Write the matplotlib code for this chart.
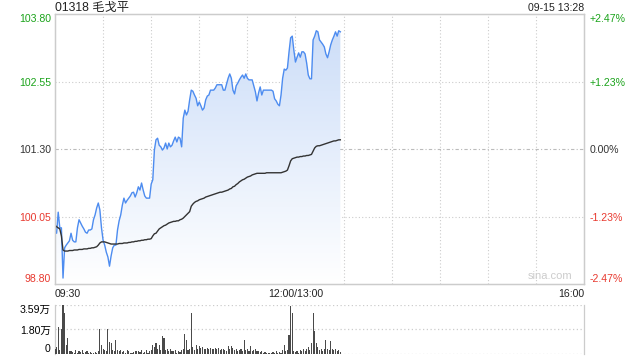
import numpy as np
import matplotlib
matplotlib.use("Agg")
import matplotlib.pyplot as plt
from matplotlib.patches import Polygon
from matplotlib.colors import LinearSegmentedColormap

plt.rcParams['font.family'] = ['Liberation Sans', 'Noto Sans CJK SC', 'DejaVu Sans']

# ---- data (minutes since 09:30, lunch break removed) ----
title = "01318 毛戈平"
stamp = "09-15 13:28"
prev_close = 101.30

price = [
    99.80, 99.74, 100.13, 99.84, 99.84, 98.91, 99.47, 99.52, 99.56, 99.60,
    99.74, 99.61, 99.58, 99.58, 99.84, 99.99, 99.93, 99.87, 99.82, 99.76,
    99.74, 99.80, 99.80, 99.82, 99.99, 100.08, 100.21, 100.30, 100.17, 99.84,
    99.61, 99.52, 99.39, 99.30, 99.13, 99.32, 99.47, 99.52, 99.52, 99.80,
    99.97, 100.08, 100.26, 100.39, 100.30, 100.35, 100.39, 100.43, 100.49, 100.50,
    100.41, 100.49, 100.60, 100.54, 100.67, 100.54, 100.43, 100.39, 100.39, 100.39,
    100.65, 100.73, 101.28, 101.47, 101.50, 101.37, 101.34, 101.28, 101.32, 101.41,
    101.30, 101.41, 101.34, 101.37, 101.45, 101.52, 101.43, 101.52, 101.50, 101.34,
    101.87, 102.02, 101.93, 102.00, 102.21, 102.39, 102.37, 102.30, 102.24, 102.10,
    102.17, 102.10, 102.02, 102.06, 102.21, 102.28, 102.30, 102.39, 102.39, 102.39,
    102.43, 102.49, 102.49, 102.49, 102.49, 102.39, 102.39, 102.50, 102.61, 102.69,
    102.61, 102.39, 102.32, 102.47, 102.52, 102.58, 102.63, 102.67, 102.61, 102.69,
    102.61, 102.58, 102.58, 102.58, 102.47, 102.36, 102.19, 102.34, 102.45, 102.30,
    102.39, 102.39, 102.39, 102.39, 102.39, 102.39, 102.37, 102.23, 102.19, 102.13,
    102.10, 102.30, 102.61, 102.78, 102.76, 102.80, 103.10, 103.36, 103.39, 103.13,
    102.91, 103.00, 103.08, 103.00, 103.10, 103.10, 103.06, 102.89, 102.67, 102.60,
    102.60, 103.32, 103.39, 103.49, 103.47, 103.32, 103.28, 103.24, 103.19, 103.06,
    102.99, 103.10, 103.23, 103.32, 103.39, 103.47, 103.39, 103.49, 103.47,
]

avg_price = [
    99.89, 99.86, 99.84, 99.82, 99.69, 99.43, 99.41, 99.41, 99.41, 99.42,
    99.42, 99.42, 99.43, 99.43, 99.43, 99.44, 99.44, 99.44, 99.45, 99.45,
    99.45, 99.46, 99.46, 99.47, 99.47, 99.48, 99.49, 99.52, 99.56, 99.58,
    99.58, 99.58, 99.57, 99.56, 99.55, 99.54, 99.54, 99.54, 99.54, 99.54,
    99.55, 99.55, 99.55, 99.56, 99.56, 99.56, 99.57, 99.57, 99.58, 99.58,
    99.59, 99.59, 99.60, 99.60, 99.61, 99.61, 99.62, 99.62, 99.63, 99.63,
    99.64, 99.69, 99.73, 99.74, 99.78, 99.82, 99.84, 99.86, 99.88, 99.89,
    99.91, 99.93, 99.94, 99.95, 99.96, 99.96, 99.97, 99.97, 99.99, 100.00,
    100.02, 100.05, 100.08, 100.11, 100.14, 100.24, 100.28, 100.31, 100.33, 100.34,
    100.36, 100.37, 100.38, 100.39, 100.41, 100.42, 100.43, 100.44, 100.45, 100.46,
    100.47, 100.48, 100.49, 100.50, 100.50, 100.51, 100.52, 100.53, 100.54, 100.56,
    100.57, 100.60, 100.61, 100.64, 100.66, 100.69, 100.71, 100.73, 100.74, 100.76,
    100.78, 100.79, 100.80, 100.82, 100.83, 100.84, 100.85, 100.85, 100.85, 100.85,
    100.85, 100.85, 100.86, 100.86, 100.86, 100.86, 100.86, 100.86, 100.86, 100.86,
    100.86, 100.86, 100.87, 100.88, 100.89, 100.91, 100.99, 101.08, 101.12, 101.13,
    101.14, 101.15, 101.15, 101.16, 101.16, 101.17, 101.17, 101.18, 101.18, 101.19,
    101.20, 101.26, 101.32, 101.35, 101.36, 101.36, 101.37, 101.38, 101.39, 101.40,
    101.41, 101.42, 101.43, 101.44, 101.45, 101.45, 101.46, 101.47, 101.47,
]

# volume in 万 shares
volume = [
    0.35, 0.5, 2.0, 0.3, 1.8, 3.59, 2.98, 0.66, 1.15, 0.25,
    0.22, 0.15, 0.1, 0.3, 0.1, 0.25, 0.15, 0.3, 0.1, 0.15,
    0.2, 0.1, 0.15, 0.1, 0.1, 0.15, 0.1, 0.2, 1.8, 0.66,
    0.4, 0.3, 0.2, 1.8, 0.9, 0.83, 0.3, 0.25, 1.03, 0.3,
    0.2, 0.3, 0.15, 0.25, 0.1, 0.3, 0.2, 0.1, 0.05, 0.15,
    0.2, 0.25, 0.25, 0.15, 0.3, 0.1, 0.15, 0.3, 0.1, 0.2,
    0.3, 0.66, 0.5, 0.83, 0.4, 0.66, 0.3, 1.32, 1.15, 0.3,
    0.4, 0.2, 0.35, 0.25, 0.2, 0.3, 0.1, 0.25, 0.15, 0.3,
    0.35, 1.47, 1.0, 0.3, 0.4, 3.03, 0.54, 0.3, 0.66, 0.4,
    0.55, 0.45, 0.5, 0.4, 0.35, 0.45, 0.4, 0.45, 0.4, 0.35,
    0.45, 0.4, 0.45, 0.3, 0.35, 0.4, 0.3, 0.25, 0.6, 0.4,
    0.6, 0.45, 0.3, 0.4, 0.25, 0.3, 0.4, 0.2, 1.0, 0.3,
    0.4, 0.25, 0.6, 0.2, 0.3, 0.35, 0.2, 0.25, 0.15, 0.2,
    0.1, 0.15, 0.1, 0.05, 0.1, 0.05, 0.15, 0.1, 0.2, 0.1,
    0.15, 0.1, 0.3, 0.66, 0.2, 0.3, 1.4, 3.5, 2.98, 0.2,
    0.15, 0.2, 0.1, 0.3, 0.25, 0.4, 0.2, 0.4, 0.5, 0.3,
    0.83, 3.03, 1.7, 0.78, 0.5, 0.3, 0.4, 0.25, 0.35, 1.03,
    0.4, 0.3, 0.95, 0.4, 0.3, 0.35, 0.2, 0.3, 0.15,
]

price_ticks = [103.80, 102.55, 101.30, 100.05, 98.80]
pct_labels = ["+2.47%", "+1.23%", "0.00%", "-1.23%", "-2.47%"]
tick_colors = ["#1aa31a", "#1aa31a", "#333333", "#e8392f", "#e8392f"]
vol_ticks = [3.59, 1.80, 0]
vol_labels = ["3.59万", "1.80万", "0"]
time_ticks = [0, 150, 330]
time_labels = ["09:30", "12:00/13:00", "16:00"]

t = np.arange(len(price))
tv = np.arange(len(volume))

fig = plt.figure(figsize=(6.4, 3.6), dpi=100)
ax = fig.add_axes([55 / 640, 1 - 284 / 360, 529 / 640, 270 / 360])
axv = fig.add_axes([55 / 640, 1 - 354 / 360, 529 / 640, 49 / 360])

grid_c = "#cccccc"
lab_size = 7.6

# ---- price panel ----
ax.set_xlim(0, 330)
ax.set_ylim(price_ticks[-1], price_ticks[0])
for x in range(30, 330, 30):
    ax.axvline(x, color=grid_c, lw=0.8, ls=(0, (1, 2)), zorder=1)
for y in price_ticks[1:-1]:
    if y == prev_close:
        ax.axhline(y, color="#bbbbbb", lw=0.8, ls=(0, (3, 2, 1, 2)), zorder=1)
    else:
        ax.axhline(y, color=grid_c, lw=0.8, ls=(0, (1, 2)), zorder=1)

# gradient fill under the price line
cmap = LinearSegmentedColormap.from_list("fill", ["#ffffff", "#cadcf8"])
grad = np.linspace(0, 1, 256).reshape(-1, 1)
im = ax.imshow(grad, cmap=cmap, aspect="auto", origin="lower",
               extent=[0, t[-1], price_ticks[-1], price_ticks[0]], zorder=2)
verts = np.vstack([np.column_stack([t, price]),
                   [[t[-1], price_ticks[-1]], [0, price_ticks[-1]]]])
poly = Polygon(verts, closed=True, facecolor="none", edgecolor="none",
               transform=ax.transData)
ax.add_patch(poly)
im.set_clip_path(poly)

ax.plot(t, price, color="#4d8cf0", lw=1.0, zorder=4)
ax.plot(t, avg_price, color="#333333", lw=1.0, zorder=4)

ax.set_xticks([])
ax.set_yticks(price_ticks)
ax.set_yticklabels([f"{v:.2f}" for v in price_ticks], fontsize=lab_size)
ax.tick_params(axis="y", length=0, pad=3)
for lab, c in zip(ax.get_yticklabels(), tick_colors):
    lab.set_color(c)
ax.get_yticklabels()[0].set_va("top")
ax.get_yticklabels()[-1].set_va("bottom")

axr = ax.twinx()
axr.set_ylim(ax.get_ylim())
axr.set_yticks(price_ticks)
axr.set_yticklabels(pct_labels, fontsize=lab_size)
axr.tick_params(axis="y", length=0, pad=4)
for lab, c in zip(axr.get_yticklabels(), tick_colors):
    lab.set_color(c)
axr.get_yticklabels()[0].set_va("top")
axr.get_yticklabels()[-1].set_va("bottom")

for a in (ax, axr):
    for s in a.spines.values():
        s.set_color(grid_c)
        s.set_linewidth(0.9)

# header texts, placed in figure pixels
fig.text(55 / 640, 1 - 8 / 360, title, fontsize=8.8,
         ha="left", va="center", color="#222222")
fig.text(584 / 640, 1 - 8 / 360, stamp, fontsize=7.6,
         ha="right", va="center", color="#222222")
ax.text(0.978, 0.012, "sina.com", transform=ax.transAxes, fontsize=8,
        ha="right", va="bottom", color="#cccccc", zorder=5)

for x, lab in zip(time_ticks, time_labels):
    ha = "left" if x == 0 else ("right" if x == 330 else "center")
    ax.text(x, -0.018, lab, transform=ax.get_xaxis_transform(),
            fontsize=lab_size, ha=ha, va="top", color="#222222")

# ---- volume panel ----
axv.set_xlim(0, 330)
axv.set_ylim(0, vol_ticks[0])
axv.bar(tv, volume, width=0.7, color="#4a4a4a", zorder=3)
for y in vol_ticks:
    axv.axhline(y, color=grid_c, lw=0.9, ls=(0, (1, 2)), zorder=1)
axv.set_xticks([])
axv.set_yticks(vol_ticks)
axv.set_yticklabels(vol_labels, fontsize=lab_size)
axv.tick_params(axis="y", length=0, pad=3)
axv.get_yticklabels()[0].set_va("top")
axv.get_yticklabels()[-1].set_va("bottom")
for name, s in axv.spines.items():
    s.set_color(grid_c)
    s.set_linewidth(0.9)
    if name in ("top", "bottom"):
        s.set_visible(False)

fig.savefig("out.png", dpi=100)
